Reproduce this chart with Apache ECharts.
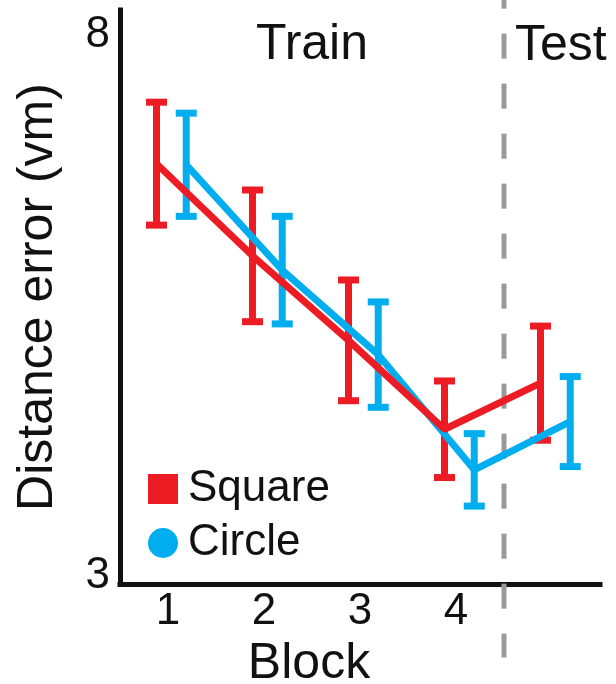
<!DOCTYPE html>
<html style="height: 100%;">
<head>
  <meta charset="utf-8">
  <script src="https://cdn.jsdelivr.net/npm/echarts@6/dist/echarts.min.js"></script>
</head>
<body style="height: 100%; margin: 0; background-color: #fff;">
  <div id="container" style="width: 616px; height: 684px;"></div>
  <script type="text/javascript">
// block labels (the test block has no tick label)
var blocks = ['1', '2', '3', '4', ''];
var blockPos = [1, 2, 3, 4, 5];

// mean distance error and half error-bar length per block
var squareMean = [6.83, 5.99, 5.22, 4.41, 4.83];
var squareErr  = [0.56, 0.60, 0.55, 0.44, 0.52];
var circleMean = [6.82, 5.86, 5.09, 4.04, 4.48];
var circleErr  = [0.47, 0.49, 0.48, 0.33, 0.41];

// horizontal nudge so the two groups don't overlap
var squareShift = -0.12;
var circleShift = 0.19;

// train / test divider
var dividerX = 4.5;
var dividerRange = [2.33, 8.47];

var RED = '#ED1C24';
var BLUE = '#00AEEF';
var FONT = 'Liberation Sans, Arial, sans-serif';

function points(mean, shift) {
    return blockPos.map(function (b, i) { return [b + shift, mean[i]]; });
}
function bars(mean, err, shift) {
    return blockPos.map(function (b, i) { return [b + shift, mean[i] - err[i], mean[i] + err[i]]; });
}
function errorBar(color) {
    return function (params, api) {
        var x = api.value(0);
        var top = api.coord([x, api.value(2)]);
        var bot = api.coord([x, api.value(1)]);
        var hw = 10.5;
        var st = { stroke: color, lineWidth: 7 };
        return {
            type: 'group',
            children: [
                { type: 'line', shape: { x1: top[0], y1: top[1], x2: bot[0], y2: bot[1] }, style: st },
                { type: 'line', shape: { x1: top[0] - hw, y1: top[1], x2: top[0] + hw, y2: top[1] }, style: st },
                { type: 'line', shape: { x1: bot[0] - hw, y1: bot[1], x2: bot[0] + hw, y2: bot[1] }, style: st }
            ]
        };
    };
}

var dom = document.getElementById('container');
var myChart = echarts.init(dom);
var option = {
    animation: false,
    textStyle: { fontFamily: FONT },
    grid: { left: 120, right: 16, top: 10, bottom: 100, outerBoundsMode: 'none', containLabel: false },
    legend: {
        orient: 'vertical',
        left: 143,
        top: 462,
        itemWidth: 30,
        itemHeight: 30,
        itemGap: 10,
        textStyle: { fontSize: 44, color: '#111', fontFamily: FONT, padding: [0, 0, 0, 5] },
        data: [
            { name: 'Square', icon: 'rect' },
            { name: 'Circle', icon: 'circle' }
        ]
    },
    xAxis: [
        {
            type: 'category',
            data: blocks,
            name: 'Block',
            nameLocation: 'middle',
            nameGap: 50,
            nameTextStyle: { fontSize: 50, color: '#111', padding: [0, 102, 0, 0] },
            axisLine: { lineStyle: { color: '#111', width: 5, cap: 'square' } },
            axisTick: { show: false },
            axisLabel: { fontSize: 44, color: '#111', margin: 6 },
            splitLine: { show: false }
        },
        {
            type: 'value',
            min: 0.5,
            max: 5.5,
            show: false,
            splitLine: { show: false }
        }
    ],
    yAxis: {
        type: 'value',
        min: 3,
        max: 8.23,
        interval: 1,
        name: 'Distance error (vm)',
        nameLocation: 'middle',
        nameGap: 57,
        nameTextStyle: { fontSize: 50, color: '#111' },
        axisLine: { show: true, lineStyle: { color: '#111', width: 5, cap: 'square' } },
        axisTick: { show: false },
        splitLine: { show: false },
        axisLabel: {
            margin: 10,
            fontSize: 44,
            color: '#111',
            formatter: function (v) {
                if (v === 3) return '{lo|3}';
                if (v === 8) return '{hi|8}';
                return '';
            },
            rich: {
                lo: { fontSize: 44, color: '#111', padding: [0, 0, 16, 0] },
                hi: { fontSize: 44, color: '#111' }
            }
        }
    },
    series: [
        {
            name: 'divider',
            type: 'custom',
            xAxisIndex: 1,
            clip: false,
            silent: true,
            data: [[dividerX, dividerRange[0], dividerRange[1]]],
            renderItem: function (params, api) {
                var top = api.coord([api.value(0), api.value(2)]);
                var bot = api.coord([api.value(0), api.value(1)]);
                return {
                    type: 'line',
                    shape: { x1: top[0], y1: top[1], x2: bot[0], y2: bot[1] },
                    style: { stroke: '#999', lineWidth: 5, lineDash: [25, 25] }
                };
            },
            markArea: {
                silent: true,
                itemStyle: { color: 'rgba(0,0,0,0)' },
                label: { fontSize: 50, color: '#111', fontFamily: FONT },
                data: [
                    [{ name: 'Train', xAxis: 0.5, label: { position: 'insideTop', distance: 10 } }, { xAxis: dividerX }],
                    [{ name: 'Test', xAxis: dividerX, label: { position: 'insideTopLeft', distance: 11 } }, { xAxis: 5.5 }]
                ]
            }
        },
        {
            name: 'circleErr',
            type: 'custom',
            xAxisIndex: 1,
            clip: false,
            data: bars(circleMean, circleErr, circleShift),
            renderItem: errorBar(BLUE)
        },
        {
            name: 'Circle',
            type: 'line',
            xAxisIndex: 1,
            color: BLUE,
            symbol: 'none',
            lineStyle: { color: BLUE, width: 7 },
            data: points(circleMean, circleShift)
        },
        {
            name: 'squareErr',
            type: 'custom',
            xAxisIndex: 1,
            clip: false,
            data: bars(squareMean, squareErr, squareShift),
            renderItem: errorBar(RED)
        },
        {
            name: 'Square',
            type: 'line',
            xAxisIndex: 1,
            color: RED,
            symbol: 'none',
            lineStyle: { color: RED, width: 7 },
            data: points(squareMean, squareShift)
        }
    ]
};
myChart.setOption(option);
  </script>
</body>
</html>
